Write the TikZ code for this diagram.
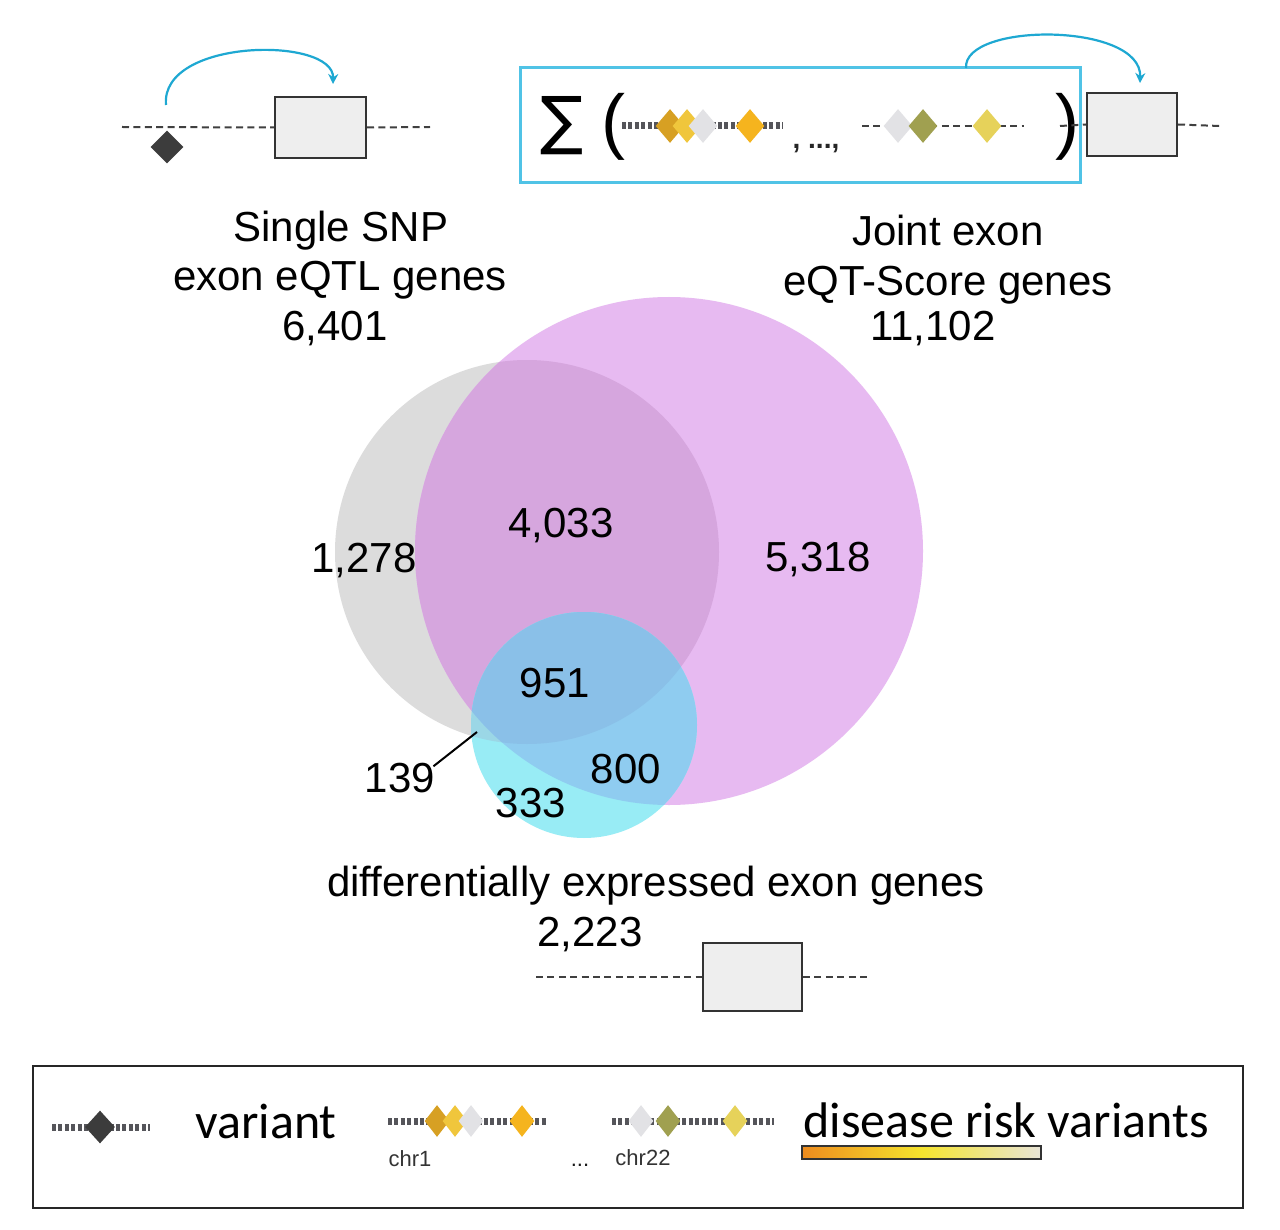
\documentclass[tikz,border=0pt]{standalone}
\usepackage{fontspec}
\setmainfont{Liberation Sans}
\newfontfamily\calfont{Carlito}
\newfontfamily\djfont{DejaVu Sans}
\usetikzlibrary{shapes.geometric,arrows.meta}
\definecolor{boxgray}{RGB}{238,238,238}
\definecolor{darkdia}{RGB}{60,60,60}
\definecolor{dotgray}{RGB}{85,85,90}
\definecolor{arrcyan}{RGB}{30,168,210}
\definecolor{framecyan}{RGB}{80,195,230}
\definecolor{dgold}{RGB}{215,160,35}
\definecolor{gold}{RGB}{240,198,60}
\definecolor{lgray}{RGB}{226,226,229}
\definecolor{orng}{RGB}{245,180,30}
\definecolor{olive}{RGB}{160,160,80}
\definecolor{yell}{RGB}{230,210,90}
\definecolor{gcol}{RGB}{220,220,220}
\definecolor{pcol}{RGB}{231,186,241}
\definecolor{gpcol}{RGB}{214,166,222}
\definecolor{ccol}{RGB}{152,236,245}
\definecolor{cpcol}{RGB}{143,204,240}
\definecolor{cgpcol}{RGB}{138,192,232}
\definecolor{cgcol}{RGB}{155,215,230}
\definecolor{barorange}{RGB}{238,140,30}
\definecolor{baryellow}{RGB}{245,228,45}
\definecolor{barlight}{RGB}{232,228,215}
\begin{document}
\begin{tikzpicture}[x=0.5pt,y=-0.5pt,
  big/.style={font=\fontsize{21}{25}\selectfont, inner sep=0pt, anchor=base},
  leg/.style={font=\calfont\fontsize{25}{30}\selectfont, inner sep=0pt, anchor=base},
  small/.style={font=\fontsize{11}{13}\selectfont, inner sep=0pt, anchor=base, text=black!80},
  genebox/.style={draw=black!80, line width=1pt, fill=boxgray, inner sep=0pt},
  thindash/.style={draw=black!75, line width=1pt, dash pattern=on 3.5pt off 2.2pt},
  thickdot/.style={draw=dotgray, line width=3.5pt, dash pattern=on 2pt off 1.2pt},
  dia/.style={diamond, inner sep=0pt, minimum width=14.5pt, minimum height=17pt},
  ldia/.style={diamond, inner sep=0pt, minimum width=12.5pt, minimum height=16pt},
  arr/.style={draw=arrcyan, line width=1.1pt, -{Stealth[length=5pt,width=5pt]}}]
\useasboundingbox (0,0) rectangle (1280,1230);
\fill[white] (0,0) rectangle (1280,1230);

% ---------- top left: single SNP ----------
\coordinate (tlL) at (122,127);
\coordinate (tlR) at (430,127);
\node[genebox, minimum width=45.5pt, minimum height=30.5pt] (tlbox) at (320.5,127.5) {};
\draw[thindash] (tlL) -- (tlbox.west);
\draw[thindash] (tlbox.east) -- (tlR);
\node[dia, fill=darkdia, minimum width=16.5pt, minimum height=16.5pt] (tldia) at (167,147) {};
\coordinate (tlA) at (166,105);
\coordinate (tlB) at (333,84);
\draw[arr] (tlA) .. controls (160,38) and (334,36) .. (tlB);

% ---------- top right: joint score ----------
\node[draw=framecyan, line width=1.5pt, minimum width=280pt, minimum height=57.5pt, inner sep=0pt] (sumbox) at (800,125.5) {};
\node[font=\djfont\fontsize{32}{32}\selectfont, inner sep=0pt] (sigma) at (562,126) {∑};
\node[font=\fontsize{36}{36}\selectfont, inner sep=0pt] (lpar) at (613,127) {(};
\node[font=\fontsize{36}{36}\selectfont, inner sep=0pt] (rpar) at (1067,127) {)};
\coordinate (c1a) at (622,126);
\coordinate (c1b) at (783,126);
\draw[thickdot] (c1a) -- (c1b);
\node[dia, fill=dgold] (s1) at (670,126) {};
\node[dia, fill=gold] (s2) at (687,126) {};
\node[dia, fill=lgray] (s3) at (703,126) {};
\node[dia, fill=orng] (s4) at (750,126) {};
\node[font=\bfseries\fontsize{14}{16}\selectfont, inner sep=0pt, anchor=base, text=black!85] (dots) at (816,149) {, ...,};
\coordinate (c2a) at (862,126);
\coordinate (c2b) at (1024,126);
\draw[thindash] (c2a) -- (c2b);
\node[dia, fill=lgray] (s5) at (898,126) {};
\node[dia, fill=olive] (s6) at (923,126) {};
\node[dia, fill=yell] (s7) at (987,126) {};
\node[genebox, minimum width=45pt, minimum height=31.5pt] (rgbox) at (1132,124.5) {};
\coordinate (rgL) at (1060,126);
\coordinate (rgR) at (1220,126);
\draw[thindash] (rgL) -- (rgbox.west);
\draw[thindash] (rgbox.east) -- (rgR);
\coordinate (rgA) at (966,68);
\coordinate (rgB) at (1140,83);
\draw[arr] (rgA) .. controls (963,22) and (1142,22) .. (rgB);

% ---------- titles ----------
\node[big] (t1a) at (341,242) {Single SNP};
\node[big] (t1b) at (340,291) {exon eQTL genes};
\node[big] (t1c) at (335,341) {6,401};
\node[big] (t2a) at (948,246) {Joint exon};
\node[big] (t2b) at (948,296) {eQT-Score genes};
\node[big] (t2c) at (933,341) {11,102};

% ---------- Venn ----------
\coordinate (gc) at (527,552);
\coordinate (pc) at (669,551);
\coordinate (cc) at (584,725);
\fill[gcol] (gc) circle[radius=96pt];
\fill[pcol] (pc) circle[radius=127pt];
\begin{scope}
  \clip (gc) circle[radius=96pt];
  \fill[gpcol] (pc) circle[radius=127pt];
\end{scope}
\fill[ccol] (cc) circle[radius=56.5pt];
\begin{scope}
  \clip (cc) circle[radius=56.5pt];
  \fill[cgcol] (gc) circle[radius=96pt];
  \fill[cpcol] (pc) circle[radius=127pt];
  \clip (gc) circle[radius=96pt];
  \fill[cgpcol] (pc) circle[radius=127pt];
\end{scope}

\node[big] (n1278) at (364,572) {1,278};
\node[big] (n4033) at (561,537) {4,033};
\node[big] (n5318) at (818,571) {5,318};
\node[big] (n951) at (555,697) {951};
\node[big] (n800) at (626,783) {800};
\node[big] (n139) at (400,792) {139};
\node[big] (n333) at (531,817) {333};
\coordinate (p139) at (477,732);
\draw[black, line width=1pt] (n139.north east) ++(-2,4) coordinate (q139) -- (p139);

\node[big] (t3a) at (656,896) {differentially expressed exon genes};
\node[big] (t3b) at (590,946) {2,223};

% ---------- bottom gene ----------
\node[genebox, minimum width=49.5pt, minimum height=34pt] (bgbox) at (752.5,977) {};
\coordinate (bgL) at (536,977);
\coordinate (bgR) at (870,977);
\draw[thindash] (bgL) -- (bgbox.west);
\draw[thindash] (bgbox.east) -- (bgR);

% ---------- legend ----------
\node[draw=black!85, line width=1.2pt, minimum width=605pt, minimum height=71pt, inner sep=0pt] (legend) at (638,1137) {};
\coordinate (v1) at (52,1127);
\coordinate (v2) at (150,1127);
\draw[thickdot] (v1) -- (v2);
\node[dia, fill=darkdia, minimum width=15pt, minimum height=16.5pt] (vdia) at (100,1127) {};
\node[leg] (lvar) at (266,1138) {variant};

\coordinate (l1a) at (388,1121);
\coordinate (l1b) at (546,1121);
\draw[thickdot] (l1a) -- (l1b);
\node[ldia, fill=dgold] (d1) at (437,1121) {};
\node[ldia, fill=gold] (d2) at (455,1121) {};
\node[ldia, fill=lgray] (d3) at (471,1121) {};
\node[ldia, fill=orng] (d4) at (522,1121) {};
\node[small] (chr1) at (410,1166) {chr1};
\node[small, text=black!90] (ell) at (580,1166) {...};

\coordinate (l2a) at (612,1121);
\coordinate (l2b) at (774,1121);
\draw[thickdot] (l2a) -- (l2b);
\node[ldia, fill=lgray] (d5) at (641,1121) {};
\node[ldia, fill=olive] (d6) at (668,1121) {};
\node[ldia, fill=yell] (d7) at (735,1121) {};
\node[small] (chr22) at (643,1165) {chr22};

\node[leg, anchor=base west] (ldis) at (803,1137) {disease risk variants};
\node[draw=black!80, line width=0.7pt, minimum width=119.5pt, minimum height=6.5pt, inner sep=0pt,
      left color=barorange, right color=barlight, middle color=baryellow] (bar) at (921.5,1152.5) {};
\end{tikzpicture}
\end{document}
